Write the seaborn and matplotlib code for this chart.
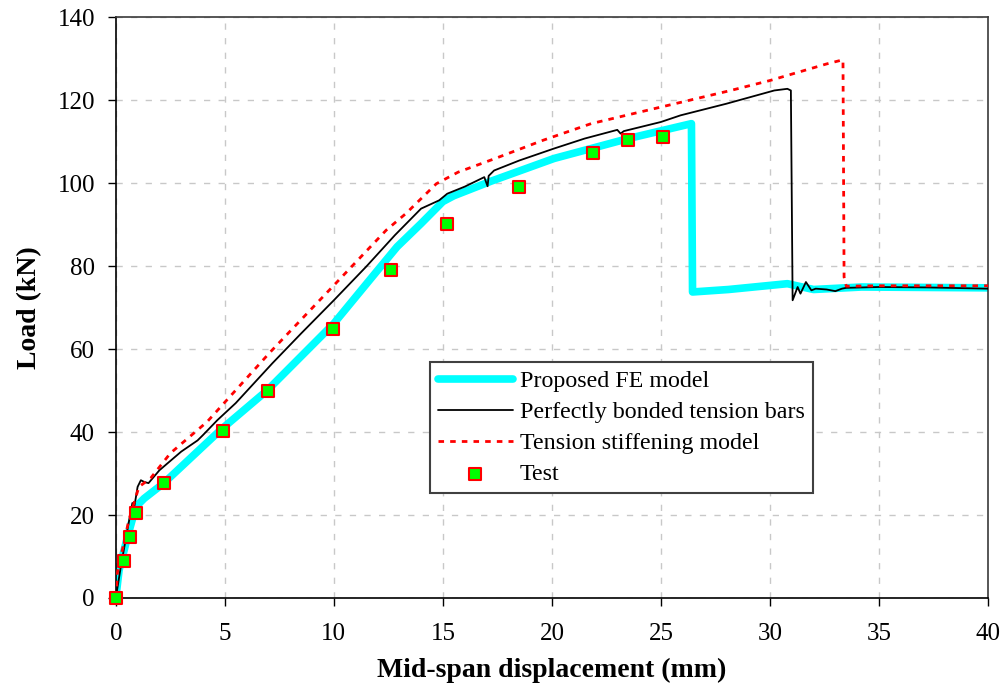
import numpy as np
import pandas as pd
import matplotlib
matplotlib.use("Agg")
import matplotlib.pyplot as plt
import seaborn as sns

# Proposed FE model (load-deflection response)
fe_x = [0, 0.15, 0.54, 0.92, 1.3, 2.2, 4.8, 6.95, 10.0, 12.16, 12.9, 14.0, 15.0, 15.5,
        17.2, 20.1, 23.5, 26.4, 26.45, 28.1, 30.8, 32.0, 34.2, 40.0]
fe_y = [0, 6.7, 14.8, 22.0, 24.0, 27.7, 40.5, 50.1, 66.2, 80.0, 84.7, 90.3, 95.6, 97.0,
        100.5, 106.0, 110.8, 114.4, 73.8, 74.4, 75.8, 74.4, 75.0, 74.8]

# Perfectly bonded tension bars
pb_x = [0, 0.23, 0.5, 0.76, 0.85, 1.0, 1.15, 1.3, 1.5, 2.0, 3.0, 3.75, 4.0, 4.66,
        5.5, 7.18, 8.5, 10.0, 11.5, 12.8, 14.0, 14.83, 15.2, 16.0, 16.9, 17.05, 17.1,
        17.35, 18.5, 20.1, 21.5, 23.0, 23.15, 23.3, 25.0, 25.9, 28.0, 30.2, 30.8, 30.96,
        31.04, 31.27, 31.4, 31.65, 31.9, 32.1, 32.6, 33.0, 33.3, 33.5, 35.0, 37.2, 40.0]
pb_y = [0, 7.5, 15.5, 22.9, 22.0, 26.8, 28.4, 28.0, 27.7, 30.8, 35.3, 38.0, 39.3, 42.9,
        47.0, 56.6, 63.8, 71.8, 80.0, 87.5, 93.9, 95.9, 97.5, 99.2, 101.5, 99.3, 101.8,
        103.1, 105.5, 108.4, 110.8, 112.9, 112.0, 112.6, 114.8, 116.4, 119.2, 122.4, 122.8,
        122.4, 71.8, 75.0, 73.4, 76.2, 74.2, 74.6, 74.4, 74.0, 74.6, 74.8, 75.0, 74.9, 74.6]

# Tension stiffening model
ts_x = [0, 0.08, 0.6, 1.06, 1.6, 2.5, 4.19, 7.1, 10.0, 12.4, 13.3, 14.7, 15.7, 17.35,
        19.6, 21.8, 25.0, 28.2, 30.0, 32.6, 33.35, 33.4, 33.5, 35.0, 40.0]
ts_y = [0, 6.3, 18.8, 26.8, 28.9, 34.9, 42.5, 59.4, 75.4, 88.7, 92.7, 99.9, 102.7, 105.9,
        110.4, 114.4, 118.4, 122.4, 124.8, 128.8, 129.8, 77.4, 75.2, 75.3, 75.3]

# Test measurements
test_x = [0, 0.37, 0.64, 0.92, 2.2, 4.9, 7.0, 9.95, 12.6, 15.2, 18.5, 21.9, 23.5, 25.1]
test_y = [0, 8.9, 14.7, 20.5, 27.7, 40.2, 49.9, 64.8, 79.0, 90.1, 99.0, 107.2, 110.4, 111.1]

x_ticks = [0, 5, 10, 15, 20, 25, 30, 35, 40]
y_ticks = [0, 20, 40, 60, 80, 100, 120, 140]

sns.set_theme(style="white")
plt.rcParams["font.family"] = ["Liberation Serif", "DejaVu Serif"]

fe = pd.DataFrame({"x": fe_x, "y": fe_y})
pb = pd.DataFrame({"x": pb_x, "y": pb_y})
ts = pd.DataFrame({"x": ts_x, "y": ts_y})
test = pd.DataFrame({"x": test_x, "y": test_y})

fig = plt.figure(figsize=(10.06, 6.86), dpi=100)
ax = fig.add_axes([0.1151, 0.1283, 0.8670, 0.8462])

sns.lineplot(data=fe, x="x", y="y", ax=ax, estimator=None, sort=False,
             color="#00FFFF", linewidth=5.5, label="Proposed FE model", zorder=2)
sns.lineplot(data=pb, x="x", y="y", ax=ax, estimator=None, sort=False,
             color="black", linewidth=1.3, label="Perfectly bonded tension bars", zorder=3)
sns.lineplot(data=ts, x="x", y="y", ax=ax, estimator=None, sort=False,
             color="#FF0000", linewidth=2.0, linestyle=(0, (2, 2.2)),
             label="Tension stiffening model", zorder=4)
sns.scatterplot(data=test, x="x", y="y", ax=ax, marker="s", s=80,
                color="#00FF00", edgecolor="#FF0000", linewidth=1.5,
                label="Test", zorder=5, clip_on=False)

ax.set_xlim(0, 40)
ax.set_ylim(0, 140)
ax.set_xticks(x_ticks)
ax.set_yticks(y_ticks)

ax.grid(True, color="#c8c8c8", linestyle=(0, (4.5, 6)), linewidth=1.0)
ax.set_axisbelow(True)

for side in ["left", "bottom"]:
    ax.spines[side].set_color("black")
    ax.spines[side].set_linewidth(1.2)
for side in ["top", "right"]:
    ax.spines[side].set_color("#3a3a3a")
    ax.spines[side].set_linewidth(1.2)

ax.tick_params(axis="both", which="major", direction="out", length=6,
               width=1.0, color="black", labelsize=18, labelcolor="black",
               bottom=True, left=True)
ax.tick_params(axis="x", pad=12)
ax.tick_params(axis="y", pad=9)

ax.set_xlabel("Mid-span displacement (mm)", fontsize=20, fontweight="bold",
              labelpad=9, color="black")
ax.set_ylabel("Load (kN)", fontsize=20, fontweight="bold", labelpad=11,
              color="black")

leg = ax.legend(loc="upper left", bbox_to_anchor=(0.360, 0.4066),
                borderaxespad=0, fontsize=17.3, frameon=True, fancybox=False,
                framealpha=1, edgecolor="#404040", handlelength=3.1,
                handletextpad=0.3, labelspacing=0.38, borderpad=0.35)
leg.get_frame().set_linewidth(1.5)
for txt in leg.get_texts():
    txt.set_color("black")

fig.savefig("out.png", dpi=100, facecolor="white")
